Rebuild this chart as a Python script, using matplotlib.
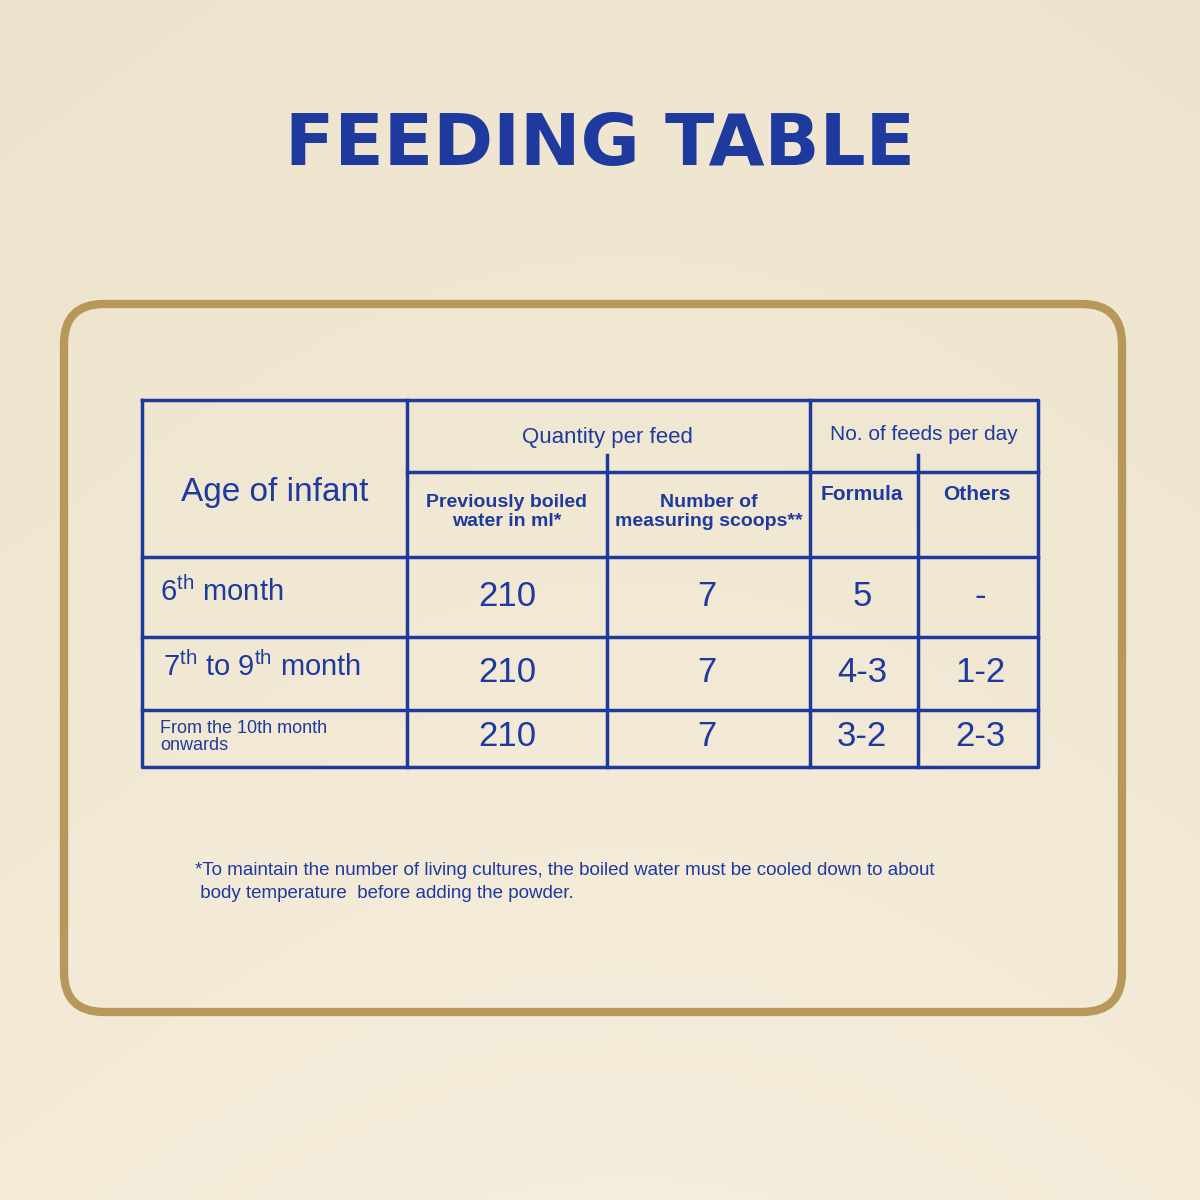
import matplotlib
matplotlib.use("Agg")
import matplotlib.pyplot as plt
import numpy as np
from matplotlib.patches import FancyBboxPatch

plt.rcParams['mathtext.default'] = 'regular'
plt.rcParams['mathtext.fontset'] = 'custom'
plt.rcParams['mathtext.rm'] = 'Liberation Sans'

title = "FEEDING TABLE"
ages = ["6$^{th}$ month", "7$^{th}$ to 9$^{th}$ month", "From the 10th month\nonwards"]
water = ["210", "210", "210"]
scoops = ["7", "7", "7"]
formula = ["5", "4-3", "3-2"]
others = ["-", "1-2", "2-3"]
footnote = ("*To maintain the number of living cultures, the boiled water must be cooled down to about\n"
            " body temperature  before adding the powder.")

BLUE = "#1E3A9E"
GOLD = "#B8975A"
FAM = ["Liberation Sans", "DejaVu Sans"]

fig = plt.figure(figsize=(12, 12), dpi=100)
ax = fig.add_axes([0, 0, 1, 1])
ax.set_xlim(0, 1200); ax.set_ylim(1200, 0); ax.axis("off")

yy = np.linspace(0, 1, 300)[:, None]
xx = np.linspace(0, 1, 300)[None, :]
top = np.array([0.93, 0.89, 0.80]); bot = np.array([0.96, 0.93, 0.86])
t = (yy * 0.8 + 0.2 * np.sin(xx * 3))
img = top[None, None, :] * (1 - t[..., None]) + bot[None, None, :] * t[..., None]
ax.imshow(np.clip(img, 0, 1), extent=[0, 1200, 1200, 0], aspect="auto", zorder=0)

ax.add_patch(FancyBboxPatch((64, 304), 1058, 708, boxstyle="round,pad=0,rounding_size=40",
                            fill=False, ec=GOLD, lw=6, zorder=1))

ax.text(600, 145, title, ha="center", va="center", color=BLUE, fontsize=52,
        fontweight="bold", family=["DejaVu Sans"])

L, R, T, B = 142, 1038, 400, 767
cols = [407, 607, 810, 918]
rows = [557, 637, 710]
lw = 2.5
ax.plot([L, R, R, L, L], [T, T, B, B, T], color=BLUE, lw=lw, zorder=3)
ax.plot([cols[0], cols[0]], [T, B], color=BLUE, lw=lw, zorder=3)
ax.plot([cols[2], cols[2]], [T, B], color=BLUE, lw=lw, zorder=3)
ax.plot([cols[1], cols[1]], [455, B], color=BLUE, lw=lw, zorder=3)
ax.plot([cols[3], cols[3]], [455, B], color=BLUE, lw=lw, zorder=3)
ax.plot([cols[0], R], [472, 472], color=BLUE, lw=lw, zorder=3)
for y in rows:
    ax.plot([L, R], [y, y], color=BLUE, lw=lw, zorder=3)

kw = dict(color=BLUE, family=FAM, zorder=4)
ax.text(275, 493, "Age of infant", ha="center", va="center", fontsize=24, **kw)
ax.text(607, 438, "Quantity per feed", ha="center", va="center", fontsize=16, **kw)
ax.text(924, 434, "No. of feeds per day", ha="center", va="center", fontsize=15, **kw)
ax.text(507, 512, "Previously boiled\nwater in ml*", ha="center", va="center", fontsize=14,
        fontweight="bold", linespacing=1.2, **kw)
ax.text(709, 512, "Number of\nmeasuring scoops**", ha="center", va="center", fontsize=14,
        fontweight="bold", linespacing=1.2, **kw)
ax.text(862, 495, "Formula", ha="center", va="center", fontsize=15, fontweight="bold", **kw)
ax.text(977, 495, "Others", ha="center", va="center", fontsize=15, fontweight="bold", **kw)

ymid = [597, 672, 737]
for i in range(3):
    if i < 2:
        ax.text(160 if i == 0 else 163, ymid[i] - 5, ages[i], ha="left", va="center",
                fontsize=21, **kw)
    else:
        ax.text(160, ymid[i], ages[i], ha="left", va="center", fontsize=13,
                linespacing=1.0, **kw)
    for x, v in [(507, water[i]), (707, scoops[i]), (862, formula[i]), (980, others[i])]:
        ax.text(x, ymid[i], v, ha="center", va="center", fontsize=25, **kw)

ax.text(195, 882, footnote, ha="left", va="center", fontsize=13.5, linespacing=1.5, **kw)

fig.savefig("out.png", dpi=100)
